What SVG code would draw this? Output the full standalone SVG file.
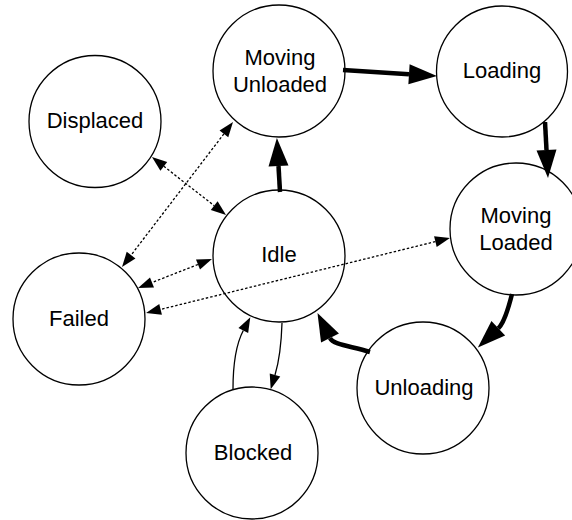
<svg xmlns="http://www.w3.org/2000/svg" width="572" height="520" viewBox="0 0 572 520">
  <style>
    .state circle { fill: #fff; stroke: #000; stroke-width: 1.3; }
    .state text { font-family: "Liberation Sans", Arial, sans-serif; font-size: 22px; fill: #000; text-anchor: middle; }
    .main { fill: none; stroke: #000; stroke-width: 4.5; }
    .thin { fill: none; stroke: #000; stroke-width: 1.3; }
    .dotted { fill: none; stroke: #000; stroke-width: 1.3; stroke-dasharray: 2.5 2; }
  </style>
  <defs>
    <marker id="bigHead" markerUnits="userSpaceOnUse" markerWidth="30" markerHeight="22" refX="0" refY="10" orient="auto" overflow="visible">
      <path d="M0,0 L28,10 L0,20 z" fill="#000"/>
    </marker>
    <marker id="smallHead" markerUnits="userSpaceOnUse" markerWidth="16" markerHeight="12" refX="0" refY="5.5" orient="auto-start-reverse" overflow="visible">
      <path d="M0,0 L15,5.5 L0,11 z" fill="#000"/>
    </marker>
  </defs>

  <!-- states -->
  <g id="moving-unloaded" class="state">
    <circle cx="279" cy="71" r="66"/>
    <text x="280" y="65">Moving</text>
    <text x="280" y="92">Unloaded</text>
  </g>
  <g id="loading" class="state">
    <circle cx="502" cy="71.5" r="65.5"/>
    <text x="502" y="78">Loading</text>
  </g>
  <g id="displaced" class="state">
    <circle cx="95" cy="121.5" r="66"/>
    <text x="95" y="128">Displaced</text>
  </g>
  <g id="idle" class="state">
    <circle cx="279" cy="256" r="66"/>
    <text x="279" y="262">Idle</text>
  </g>
  <g id="moving-loaded" class="state">
    <circle cx="516" cy="229" r="66"/>
    <text x="516" y="223">Moving</text>
    <text x="516" y="250">Loaded</text>
  </g>
  <g id="failed" class="state">
    <circle cx="79" cy="319" r="66"/>
    <text x="79" y="326">Failed</text>
  </g>
  <g id="unloading" class="state">
    <circle cx="423" cy="388" r="66"/>
    <text x="424" y="395">Unloading</text>
  </g>
  <g id="blocked" class="state">
    <circle cx="252" cy="453" r="66"/>
    <text x="253" y="460">Blocked</text>
  </g>

  <!-- transitions -->
  <g id="connectors">
    <!-- main work cycle -->
    <path class="main" d="M343,70 L409,74.2" marker-end="url(#bigHead)"/>
    <path class="main" d="M545,122 L546.5,150" marker-end="url(#bigHead)"/>
    <path class="main" d="M512,294 Q505,322 498.3,328.3" marker-end="url(#bigHead)"/>
    <path class="main" d="M370,352 C351,346 333.6,345.2 330,338" marker-end="url(#bigHead)"/>
    <path class="main" d="M280,192 L278.5,166" marker-end="url(#bigHead)"/>

    <!-- idle / blocked -->
    <path class="thin" d="M282,323 Q281,355 275,375" marker-end="url(#smallHead)"/>
    <path class="thin" d="M233,389 Q233,350 243.3,330.5" marker-end="url(#smallHead)"/>

    <!-- fault transitions -->
    <path class="dotted" d="M163.8,166.3 L214.2,205.7" marker-start="url(#smallHead)" marker-end="url(#smallHead)"/>
    <path class="dotted" d="M223.9,133.9 L131.1,255.1" marker-start="url(#smallHead)" marker-end="url(#smallHead)"/>
    <path class="dotted" d="M198,264.5 L152,282.5" marker-start="url(#smallHead)" marker-end="url(#smallHead)"/>
    <path class="dotted" d="M435.4,241.6 L160.6,309.4" marker-start="url(#smallHead)" marker-end="url(#smallHead)"/>
  </g>
</svg>
